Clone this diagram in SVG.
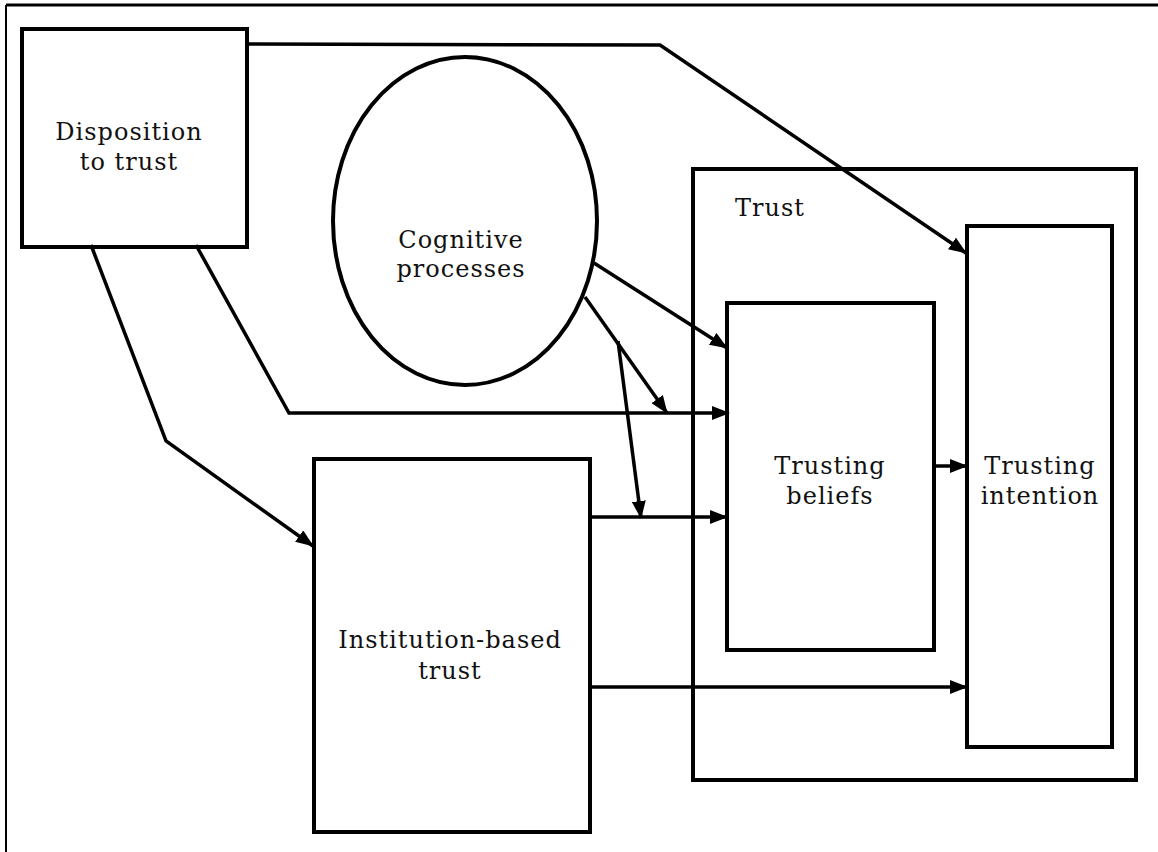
<svg xmlns="http://www.w3.org/2000/svg" width="1158" height="852" viewBox="0 0 1158 852">
<style>
.box{fill:none;stroke:#000;stroke-width:4}
.con{fill:none;stroke:#000;stroke-width:3.5;stroke-linejoin:miter}
.lbl{font-family:"DejaVu Serif","Liberation Serif",serif;font-size:24px;letter-spacing:1px;fill:#111;text-anchor:middle}
</style>
<defs>
<marker id="arr" markerUnits="userSpaceOnUse" markerWidth="18" markerHeight="14" refX="17" refY="7" orient="auto">
<path d="M0,0 L18,7 L0,14 z" fill="#000"/>
</marker>
</defs>
<rect width="1158" height="852" fill="#fff"/>
<g id="frame">
<line x1="6" y1="5" x2="1158" y2="5" stroke="#000" stroke-width="3"/>
<line x1="6" y1="5" x2="6" y2="852" stroke="#000" stroke-width="2"/>
</g>
<g id="trust-group">
<rect class="box" x="693" y="169" width="443" height="611"/>
<text class="lbl" x="770" y="216">Trust</text>
</g>
<g id="disposition">
<rect class="box" x="22" y="29" width="225" height="218"/>
<text class="lbl" x="129" y="140">Disposition</text>
<text class="lbl" x="129" y="170">to trust</text>
</g>
<g id="cognitive">
<ellipse class="box" cx="465" cy="221" rx="132" ry="164" stroke-width="3.5"/>
<text class="lbl" x="461" y="248">Cognitive</text>
<text class="lbl" x="461" y="277">processes</text>
</g>
<g id="institution">
<rect class="box" x="314" y="459" width="276" height="373"/>
<text class="lbl" x="450" y="648">Institution-based</text>
<text class="lbl" x="450" y="679">trust</text>
</g>
<g id="beliefs">
<rect class="box" x="727" y="303" width="207" height="347"/>
<text class="lbl" x="830" y="474">Trusting</text>
<text class="lbl" x="830" y="504">beliefs</text>
</g>
<g id="intention">
<rect class="box" x="967" y="226" width="145" height="521"/>
<text class="lbl" x="1040" y="474">Trusting</text>
<text class="lbl" x="1040" y="504">intention</text>
</g>
<g id="connectors">
<polyline class="con" points="247,44 660,45 966,253" marker-end="url(#arr)"/>
<polyline class="con" points="91,245 166,441 313,546" marker-end="url(#arr)"/>
<polyline class="con" points="196,245 289,413 729,413" marker-end="url(#arr)"/>
<line class="con" x1="594" y1="263" x2="727" y2="348" marker-end="url(#arr)"/>
<line class="con" x1="585" y1="297" x2="667" y2="413" marker-end="url(#arr)"/>
<line class="con" x1="618" y1="341" x2="641" y2="518" marker-end="url(#arr)"/>
<line class="con" x1="590" y1="517" x2="727" y2="517" marker-end="url(#arr)"/>
<line class="con" x1="934" y1="466" x2="967" y2="466" marker-end="url(#arr)"/>
<line class="con" x1="590" y1="687" x2="967" y2="687" marker-end="url(#arr)"/>
</g>
</svg>
